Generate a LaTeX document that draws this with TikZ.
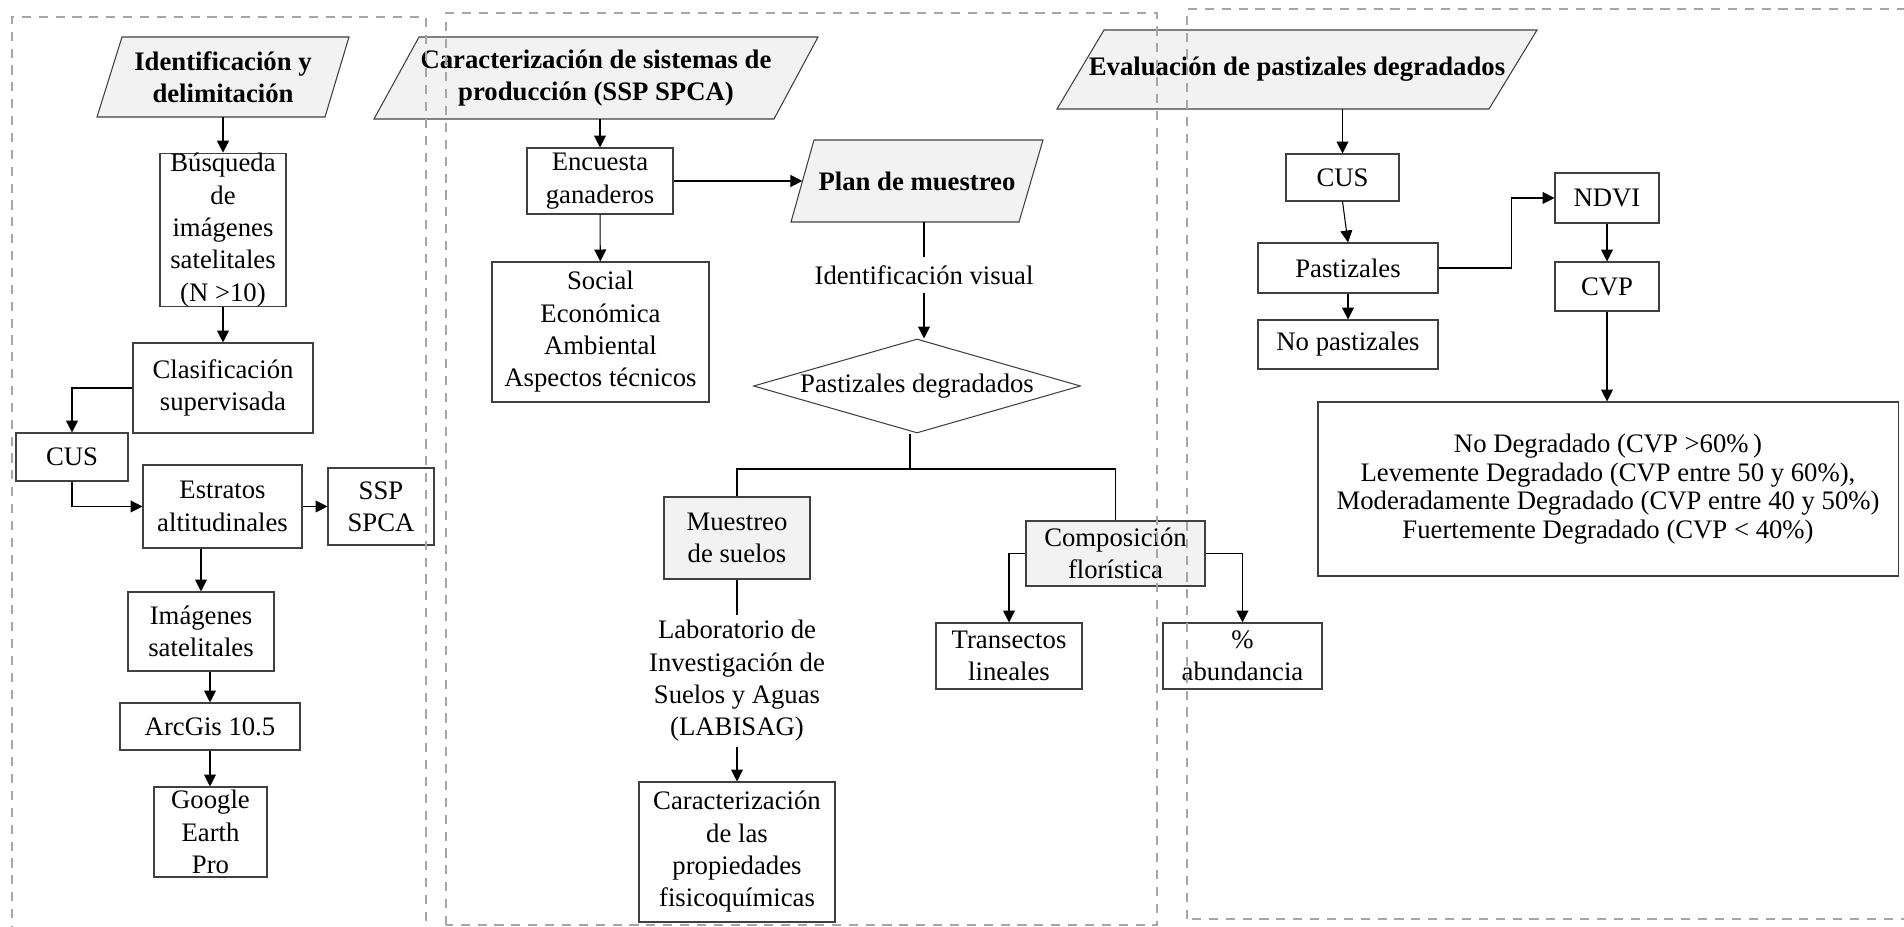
\documentclass[tikz,border=0pt]{standalone}
\usepackage{fontspec}
\setmainfont{Liberation Serif}
\usepackage{tikz}
\usetikzlibrary{positioning, arrows.meta, shapes.geometric}
\definecolor{boxline}{HTML}{404040}
\definecolor{dashgrey}{HTML}{A6A6A6}
\definecolor{titlefill}{HTML}{F2F2F2}

\begin{document}
\begin{tikzpicture}[
    font=\fontsize{15.2}{18.4}\selectfont,
    proc/.style={draw=boxline, line width=0.6pt, fill=white, inner sep=0pt, align=center},
    procgrey/.style={proc, fill=titlefill},
    plain/.style={inner sep=0pt, align=center},
    titletext/.style={inner sep=0pt, align=center, font=\fontsize{15.2}{18.4}\selectfont\bfseries},
    titleshape/.style={draw=boxline, line width=0.6pt, fill=titlefill},
    flow/.style={-{Triangle[length=6.8pt, width=6.8pt]}, line width=0.6pt},
    link/.style={line width=0.6pt},
    stage/.style={draw=dashgrey, line width=1.4pt, dash pattern=on 5.2pt off 4.4pt}
  ]
      \useasboundingbox (0,0) rectangle (38.08,18.54);

      % Identificacion y delimitacion
      \draw[titleshape] (1.94,16.2) -- (6.50,16.2) -- (6.98,17.8) -- (2.44,17.8) -- cycle;
      \node[titletext, minimum height=1.6cm] (idtit) at (4.46,17.0)
        {Identificación y\\delimitación};
      \node[proc, minimum width=2.52cm, minimum height=3.06cm] (busq) at (4.46,13.94)
        {Búsqueda\\de\\imágenes\\satelitales\\(N >10)};
      \node[proc, minimum width=3.6cm, minimum height=1.8cm] (clas) at (4.46,10.78)
        {Clasificación\\supervisada};
      \node[proc, minimum width=2.24cm, minimum height=0.96cm] (cusa) at (1.44,9.40) {CUS};
      \node[proc, minimum width=3.18cm, minimum height=1.66cm] (estr) at (4.45,8.41)
        {Estratos\\altitudinales};
      \node[proc, minimum width=2.12cm, minimum height=1.54cm] (ssp) at (7.62,8.41) {SSP\\SPCA};
      \node[proc, minimum width=2.92cm, minimum height=1.58cm] (imag) at (4.02,5.91)
        {Imágenes\\satelitales};
      \node[proc, minimum width=3.6cm, minimum height=0.94cm] (arcg) at (4.20,4.01) {ArcGis 10.5};
      \node[proc, minimum width=2.26cm, minimum height=1.8cm] (goog) at (4.21,1.90)
        {Google\\Earth\\Pro};

      \draw[flow] (idtit) -- (busq);
      \draw[flow] (busq) -- (clas);
      \draw[flow] (clas.west) -| (cusa.north);
      \draw[flow] (cusa.south) |- (estr.west);
      \draw[flow] (estr) -- (ssp);
      \draw[flow] (estr.south -| imag.north) -- (imag.north);
      \draw[flow] (imag.south -| arcg.north) -- (arcg.north);
      \draw[flow] (arcg.south) -- (arcg.south |- goog.north);

      % Caracterizacion de sistemas de produccion
      \draw[titleshape] (7.48,16.16) -- (15.48,16.16) -- (16.36,17.8) -- (8.38,17.8) -- cycle;
      \node[titletext, minimum height=1.64cm] (cartit) at (11.92,16.98)
        {Caracterización de sistemas de\\producción (SSP SPCA)};
      \node[proc, minimum width=2.92cm, minimum height=1.32cm] (encu) at (12.00,14.92)
        {Encuesta\\ganaderos};
      \node[proc, minimum width=4.34cm, minimum height=2.80cm] (soc) at (12.01,11.90)
        {Social\\Económica\\Ambiental\\Aspectos técnicos};

      \draw[titleshape] (15.82,14.10) -- (20.38,14.10) -- (20.86,15.74) -- (16.28,15.74) -- cycle;
      \node[titletext, minimum height=1.64cm, minimum width=4.57cm] (plan) at (18.34,14.92)
        {Plan de muestreo};
      \node[plain, minimum height=0.7cm] (idvis) at (18.48,13.04) {Identificación visual};
      \node[diamond, draw=boxline, line width=0.6pt, inner sep=0pt, aspect=3.48,
            minimum width=6.54cm, minimum height=1.88cm] (diam) at (18.34,10.82)
        {Pastizales degradados};
      \coordinate (split) at (18.20,9.16);
      \node[procgrey, minimum width=2.92cm, minimum height=1.64cm] (mues) at (14.74,7.78)
        {Muestreo\\de suelos};
      \node[procgrey, minimum width=3.58cm, minimum height=1.30cm] (comp) at (22.31,7.47)
        {Composición\\florística};
      \node[plain, minimum height=2.64cm] (lab) at (14.74,4.92)
        {Laboratorio de\\Investigación de\\Suelos y Aguas\\(LABISAG)};
      \node[proc, minimum width=3.92cm, minimum height=2.80cm] (carac) at (14.74,1.50)
        {Caracterización\\de las\\propiedades\\fisicoquímicas};
      \node[proc, minimum width=2.92cm, minimum height=1.32cm] (tran) at (20.18,5.42)
        {Transectos\\lineales};
      \node[proc, minimum width=3.18cm, minimum height=1.32cm] (abun) at (24.85,5.42)
        {\%\\abundancia};

      \draw[flow] (cartit.south -| encu.north) -- (encu.north);
      \draw[flow] (encu) -- (plan);
      \draw[flow] (encu) -- (soc);
      \draw[link] (plan.south -| idvis.north) -- (idvis.north);
      \draw[flow] (idvis.south) -- (idvis.south |- diam.north);
      \draw[link] (diam.south -| split) -- (split);
      \draw[link] (mues.north) |- (split) -| (comp.north);
      \draw[link] (mues) -- (lab);
      \draw[flow] (lab) -- (carac);
      \draw[flow] (comp.west) -| (tran.north);
      \draw[flow] (comp.east) -| (abun.north);

      % Evaluacion de pastizales degradados
      \draw[titleshape] (21.14,16.36) -- (29.78,16.36) -- (30.74,17.94) -- (22.08,17.94) -- cycle;
      \node[titletext, minimum height=1.58cm] (evatit) at (25.94,17.15)
        {Evaluación de pastizales degradados};
      \node[proc, minimum width=2.26cm, minimum height=0.94cm] (cusb) at (26.85,14.99) {CUS};
      \node[proc, minimum width=3.6cm, minimum height=1.0cm] (past) at (26.96,13.18) {Pastizales};
      \node[proc, minimum width=3.6cm, minimum height=0.98cm] (nopast) at (26.96,11.65)
        {No pastizales};
      \node[proc, minimum width=2.08cm, minimum height=1.0cm] (ndvi) at (32.14,14.58) {NDVI};
      \node[proc, minimum width=2.08cm, minimum height=0.98cm] (cvp) at (32.14,12.81) {CVP};
      \node[proc, minimum width=11.6cm, minimum height=3.48cm,
            font=\fontsize{15.2}{16.2}\selectfont] (grados) at (32.16,8.76)
        {No Degradado (CVP >60\%\,)\\
         Levemente Degradado (CVP entre 50 y 60\%),\\
         Moderadamente Degradado (CVP entre 40 y 50\%)\\
         Fuertemente Degradado (CVP < 40\%)};

      \draw[flow] (evatit.south -| cusb.north) -- (cusb.north);
      \draw[flow] (cusb.south) -- (past.north);
      \draw[flow] (past) -- (nopast);
      \draw[flow] (past.east) -- ++(1.46,0) |- (ndvi.west);
      \draw[flow] (ndvi) -- (cvp);
      \draw[flow] (cvp.south) -- (cvp.south |- grados.north);

      % dashed stage frames
      \draw[stage] (0.24,-0.16) rectangle (8.52,18.20);
      \draw[stage] (8.92,0.04) rectangle (23.14,18.28);
      \draw[stage] (23.74,0.16) rectangle (38.24,18.36);
\end{tikzpicture}
\end{document}
